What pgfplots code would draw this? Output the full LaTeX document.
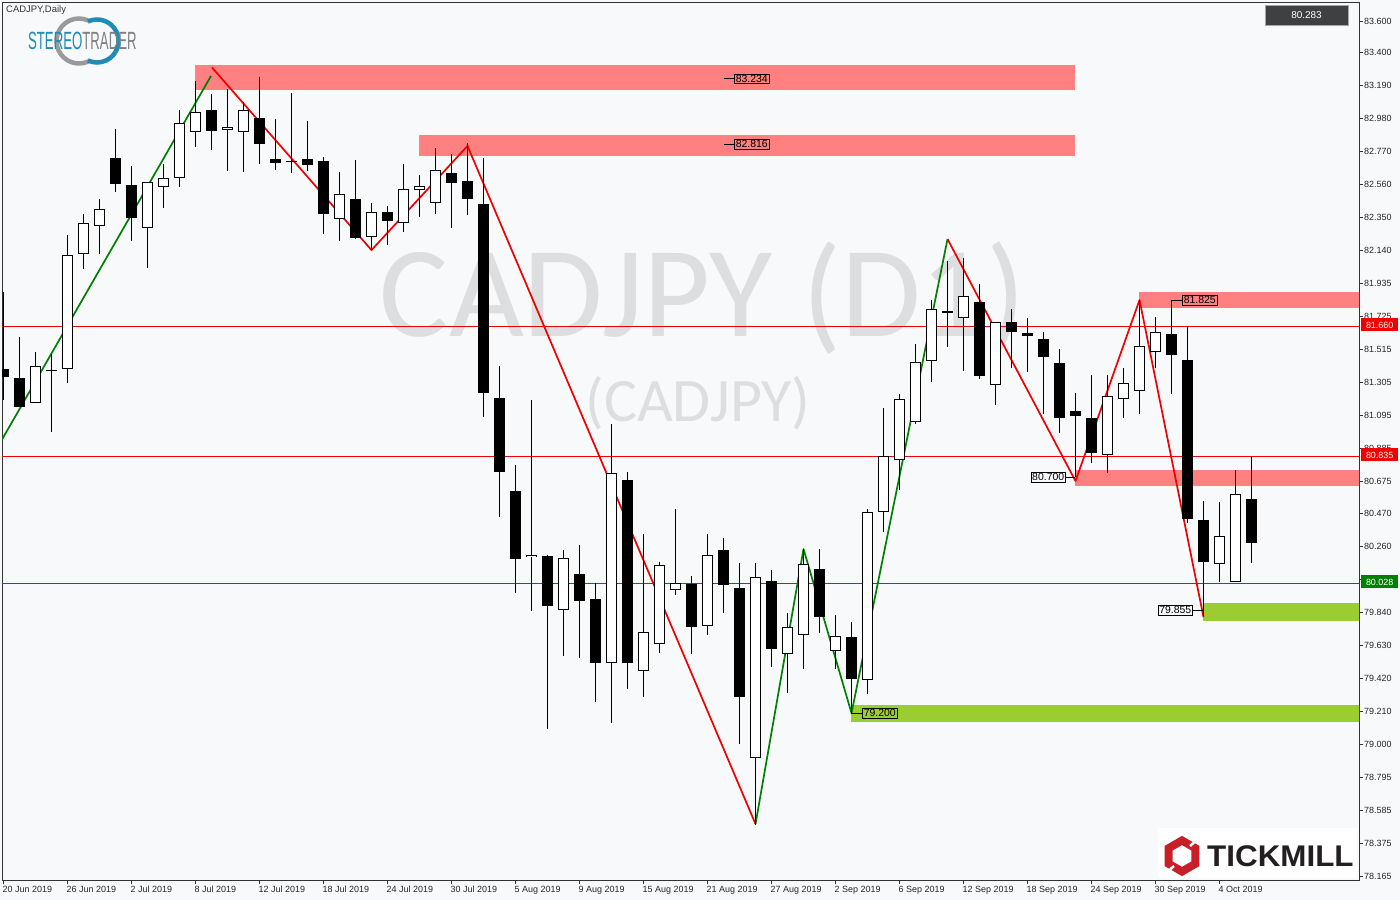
\documentclass[border=0pt]{standalone}
\usepackage{pgfplots}
\pgfplotsset{compat=1.18}
\usepackage{pgfplotstable}
\usepackage{fontspec}
\setmainfont{Liberation Sans}
\newfontfamily\wmfont{Carlito}
\usetikzlibrary{shapes.geometric}

\definecolor{bgc}{RGB}{248,249,251}
\definecolor{zonered}{RGB}{255,128,128}
\definecolor{zonegreen}{RGB}{154,205,50}
\definecolor{zzred}{RGB}{240,0,0}
\definecolor{zzgreen}{RGB}{0,128,0}
\definecolor{wmgray}{RGB}{221,222,223}
\definecolor{stblue}{RGB}{30,140,180}
\definecolor{stgray}{RGB}{128,128,128}
\definecolor{tmred}{RGB}{200,30,40}
\definecolor{tmtext}{RGB}{35,31,32}

% daily candles, i = bar number (0 = 20 Jun 2019)
\pgfplotstableread{
i O H L C
0 81.388 81.877 81.191 81.337
1 81.331 81.591 81.146 81.146
2 81.172 81.496 81.172 81.407
3 81.377 81.483 80.988 81.373
4 81.388 82.240 81.299 82.113
5 82.119 82.373 82.024 82.316
6 82.297 82.469 82.119 82.405
7 82.729 82.914 82.513 82.564
8 82.558 82.678 82.202 82.348
9 82.284 82.577 82.030 82.577
10 82.545 82.691 82.411 82.602
11 82.602 83.034 82.545 82.952
12 82.895 83.219 82.799 83.022
13 83.034 83.136 82.780 82.901
14 82.907 83.168 82.647 82.926
15 82.895 83.085 82.640 83.034
16 82.984 83.244 82.691 82.818
17 82.723 82.977 82.653 82.698
18 82.706 83.143 82.634 82.702
19 82.723 82.965 82.647 82.685
20 82.710 82.736 82.246 82.373
21 82.342 82.640 82.202 82.500
22 82.469 82.717 82.214 82.221
23 82.227 82.443 82.144 82.386
24 82.386 82.424 82.176 82.329
25 82.316 82.691 82.259 82.532
26 82.526 82.621 82.354 82.551
27 82.443 82.793 82.373 82.653
28 82.634 82.755 82.284 82.570
29 82.583 82.825 82.367 82.469
30 82.437 82.729 81.083 81.235
31 81.204 81.407 80.447 80.733
32 80.612 80.778 79.964 80.180
33 80.193 81.191 79.850 80.206
34 80.199 80.206 79.099 79.881
35 79.856 80.237 79.564 80.187
36 80.085 80.269 79.551 79.913
37 79.926 80.028 79.271 79.519
38 79.519 81.038 79.138 80.727
39 80.682 80.733 79.354 79.519
40 79.468 80.339 79.303 79.716
41 79.640 80.161 79.583 80.142
42 79.983 80.498 79.951 80.028
43 80.021 80.072 79.576 79.748
44 79.754 80.339 79.697 80.206
45 80.237 80.314 79.837 80.015
46 79.996 80.155 79.004 79.303
47 78.915 80.155 78.489 80.066
48 80.040 80.110 79.494 79.608
49 79.576 79.837 79.328 79.748
50 79.697 80.244 79.481 80.148
51 80.117 80.244 79.710 79.811
52 79.595 79.824 79.481 79.691
53 79.684 79.780 79.201 79.417
54 79.411 80.498 79.322 80.479
55 80.479 81.140 80.352 80.835
56 80.810 81.229 80.619 81.197
57 81.051 81.547 81.038 81.433
58 81.439 81.827 81.305 81.769
59 81.757 82.075 81.528 81.744
60 81.712 82.094 81.375 81.852
61 81.814 81.928 81.324 81.344
62 81.286 81.687 81.159 81.687
63 81.687 81.769 81.394 81.623
64 81.617 81.712 81.369 81.598
65 81.579 81.623 81.102 81.464
66 81.426 81.515 80.981 81.076
67 81.121 81.235 80.700 81.089
68 81.076 81.350 80.790 80.854
69 80.841 81.350 80.727 81.216
70 81.197 81.394 81.076 81.299
71 81.248 81.827 81.102 81.534
72 81.496 81.719 81.394 81.623
73 81.610 81.825 81.229 81.477
74 81.445 81.661 80.409 80.434
75 80.428 80.549 79.820 80.161
76 80.148 80.543 80.034 80.326
77 80.034 80.746 80.034 80.593
78 80.562 80.835 80.155 80.283
}\candles

\begin{document}
\begin{tikzpicture}
% pixel frame: (px,py) of the screenshot
\begin{scope}[x=1bp,y=-1bp,shift={(-2bp,880bp)}]
  \fill[bgc] (0,0) rectangle (1400,900);
  \node[font=\wmfont\fontsize{130}{130}\selectfont, text=wmgray, anchor=base, inner sep=0] at (703,337) {CADJPY (D1)};
  \node[font=\wmfont\fontsize{62}{62}\selectfont, text=wmgray, anchor=base, inner sep=0] at (698,422) {(CADJPY)};
\end{scope}

\begin{axis}[
  at={(0,0)}, anchor=south west,
  scale only axis, width=1357bp, height=878bp,
  xmin=-0.094, xmax=84.72, ymin=78.140, ymax=83.721,
  axis line style={draw=black!80, line width=0.8bp},
  tick align=outside, major tick length=4bp,
  tick style={draw=black!80, line width=0.8bp},
  xtick pos=left, ytick pos=right,
  xticklabel pos=left, yticklabel pos=right,
  xtick={0,4,...,76},
  xticklabels={20 Jun 2019,26 Jun 2019,2 Jul 2019,8 Jul 2019,12 Jul 2019,18 Jul 2019,24 Jul 2019,30 Jul 2019,5 Aug 2019,9 Aug 2019,15 Aug 2019,21 Aug 2019,27 Aug 2019,2 Sep 2019,6 Sep 2019,12 Sep 2019,18 Sep 2019,24 Sep 2019,30 Sep 2019,4 Oct 2019},
  ytick={78.165,78.375,78.585,78.795,79.000,79.210,79.420,79.630,79.840,80.050,80.260,80.470,80.675,80.885,81.095,81.305,81.515,81.725,81.935,82.140,82.350,82.560,82.770,82.980,83.190,83.400,83.600},
  yticklabels={78.165,78.375,78.585,78.795,79.000,79.210,79.420,79.630,79.840,80.050,80.260,80.470,80.675,80.885,81.095,81.305,81.515,81.725,81.935,82.140,82.350,82.560,82.770,82.980,83.190,83.400,83.600},
  xticklabel style={anchor=north west, inner sep=0pt, xshift=-1bp, yshift=-2bp, font=\fontsize{9}{10}\selectfont, text=black!85},
  yticklabel style={anchor=west, inner sep=0pt, xshift=1bp, font=\fontsize{9}{10}\selectfont, text=black!85},
]
% zones
\addplot[fill=zonered, draw=none, forget plot] coordinates {(11.97,83.162)(66.97,83.162)(66.97,83.321)(11.97,83.321)} -- cycle;
\addplot[fill=zonered, draw=none, forget plot] coordinates {(25.97,82.742)(66.97,82.742)(66.97,82.876)(25.97,82.876)} -- cycle;
\addplot[fill=zonered, draw=none, forget plot] coordinates {(70.97,81.776)(86,81.776)(86,81.877)(70.97,81.877)} -- cycle;
\addplot[fill=zonered, draw=none, forget plot] coordinates {(66.97,80.644)(86,80.644)(86,80.746)(66.97,80.746)} -- cycle;
\addplot[fill=zonegreen, draw=none, forget plot] coordinates {(52.97,79.144)(86,79.144)(86,79.252)(52.97,79.252)} -- cycle;
\addplot[fill=zonegreen, draw=none, forget plot] coordinates {(74.97,79.786)(86,79.786)(86,79.900)(74.97,79.900)} -- cycle;
% horizontal levels
\addplot[zzred, line width=0.9bp] coordinates {(-1,81.660)(86,81.660)};
\addplot[zzred, line width=0.9bp] coordinates {(-1,80.835)(86,80.835)};
\addplot[zzgreen, line width=0.9bp] coordinates {(-1,80.028)(86,80.028)};
% zigzag
\addplot[zzgreen, line width=1.7bp] coordinates {(-0.5,80.868)(12.97,83.251)};
\addplot[zzred, line width=1.7bp, line join=round] coordinates {(13.03,83.305)(23,82.144)(29,82.806)(47,78.496)};
\addplot[zzgreen, line width=1.7bp, line join=round] coordinates {(47,78.496)(50,80.244)(53,79.201)(59,82.214)};
\addplot[zzred, line width=1.7bp, line join=round] coordinates {(59,82.214)(67,80.676)(71,81.827)(75,79.811)};
% wicks
\addplot[draw=none, mark=none, forget plot,
  error bars/.cd, y dir=plus, y explicit, error mark=none,
  error bar style={line width=1bp, draw=black}]
  table[x=i, y=L, y error plus expr={\thisrow{H}-\thisrow{L}}] {\candles};
% bodies (outline)
\addplot[draw=none, mark=none, forget plot,
  error bars/.cd, y dir=plus, y explicit, error mark=none,
  error bar style={line width=11.5bp, draw=black}]
  table[x=i, y expr={min(\thisrow{O},\thisrow{C})},
        y error plus expr={max(abs(\thisrow{C}-\thisrow{O}),0.0075)}] {\candles};
% bodies (white fill for rising days)
\addplot[draw=none, mark=none, forget plot, restrict y to domain=70:90,
  error bars/.cd, y dir=plus, y explicit, error mark=none,
  error bar style={line width=9.5bp, draw=white}]
  table[x=i, y expr={(\thisrow{C}>\thisrow{O}) ? (\thisrow{O}+0.0064) : 0},
        y error plus expr={max(\thisrow{C}-\thisrow{O}-0.0128,0)}] {\candles};
% level labels
\tikzset{lvl/.style={draw=black, line width=0.8bp, inner xsep=1.3bp, inner ysep=1bp, font=\fontsize{10.5}{11}\selectfont}}
\draw[black, line width=0.8bp] (axis cs:45.03,83.234) -- (axis cs:45.66,83.234);
\node[lvl, anchor=west] at (axis cs:45.66,83.234) {83.234};
\draw[black, line width=0.8bp] (axis cs:45.03,82.816) -- (axis cs:45.66,82.816);
\node[lvl, anchor=west] at (axis cs:45.66,82.816) {82.816};
\draw[black, line width=0.8bp] (axis cs:73.0,81.825) -- (axis cs:73.66,81.825);
\node[lvl, anchor=west] at (axis cs:73.66,81.825) {81.825};
\draw[black, line width=0.8bp] (axis cs:66.4,80.700) -- (axis cs:66.97,80.700);
\node[lvl, anchor=east] at (axis cs:66.4,80.700) {80.700};
\draw[black, line width=0.8bp] (axis cs:52.97,79.200) -- (axis cs:53.66,79.200);
\node[lvl, anchor=west] at (axis cs:53.66,79.200) {79.200};
\draw[black, line width=0.8bp] (axis cs:74.34,79.855) -- (axis cs:74.97,79.855);
\node[lvl, anchor=east] at (axis cs:74.34,79.855) {79.855};
\end{axis}

\begin{scope}[x=1bp,y=-1bp,shift={(-2bp,880bp)}]
  % right-hand price tags
  \node[fill={rgb,255:red,240;green,0;blue,0}, text=white, font=\fontsize{9}{10}\selectfont, minimum width=37bp, minimum height=13bp, inner sep=0, anchor=west] at (1361,325) {81.660};
  \node[fill={rgb,255:red,240;green,0;blue,0}, text=white, font=\fontsize{9}{10}\selectfont, minimum width=37bp, minimum height=13bp, inner sep=0, anchor=west] at (1361,455) {80.835};
  \node[fill=zzgreen, text=white, font=\fontsize{9}{10}\selectfont, minimum width=37bp, minimum height=13bp, inner sep=0, anchor=west] at (1361,582) {80.028};
  \node[fill=black!75, draw=black!35, text=white, font=\fontsize{10}{12}\selectfont, minimum width=83bp, minimum height=20bp, inner sep=0] at (1306.5,15) {80.283};
  % header
  \node[anchor=west, inner sep=0, font=\fontsize{9.5}{10}\selectfont, text=black!80] at (6,10) {CADJPY,Daily};
  % StereoTrader logo
  \draw[stgray!80, line width=4.5bp] (79,41) ++(65:22.5) arc[start angle=65, end angle=295, radius=22.5];
  \draw[stblue, line width=4.5bp] (97,41) ++(-115:21.5) arc[start angle=-115, end angle=115, radius=21.5];
  \node[anchor=west, inner sep=0, xscale=0.53, font=\fontsize{25}{25}\selectfont] at (28,41) {\textcolor{stblue}{STEREO}\textcolor{stgray}{TRADER}};
  % Tickmill logo
  \fill[white] (1158,828) rectangle (1357,878);
  \node[regular polygon, regular polygon sides=6, shape border rotate=30, minimum size=31bp, draw=tmred, line width=8bp, inner sep=0] at (1182,856) {};
  \draw[white, line width=2.5bp] (1190,846) -- (1199,838);
  \draw[white, line width=2.5bp] (1174,866) -- (1165,874);
  \node[anchor=west, inner sep=0, xscale=1.05, font=\bfseries\fontsize{30}{30}\selectfont, text=tmtext] at (1207,856) {TICKMILL};
\end{scope}
\end{tikzpicture}
\end{document}
